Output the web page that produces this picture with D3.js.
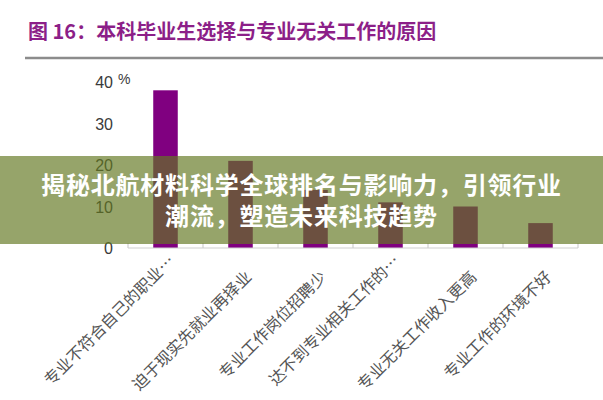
<!DOCTYPE html>
<html>
<head>
<meta charset="utf-8">
<script src="https://cdn.jsdelivr.net/npm/d3@7"></script>
<style>
  html, body { margin: 0; padding: 0; background: #ffffff; }
  svg { display: block; }
</style>
</head>
<body>
<svg id="chart" width="603" height="400"></svg>
<script>
const titleText = "图 16：本科毕业生选择与专业无关工作的原因";
const categories = [
  "专业不符合自己的职业…",
  "迫于现实先就业再择业",
  "专业工作岗位招聘少",
  "达不到专业相关工作的…",
  "专业无关工作收入更高",
  "专业工作的环境不好"
];
const values = [38, 21, 14, 11, 10, 6];
const yTicks = [0, 10, 20, 30, 40];
const bannerLines = ["揭秘北航材料科学全球排名与影响力，引领行业", "潮流，塑造未来科技趋势"];

const svg = d3.select("#chart");
const W = 603, H = 400;
svg.append("rect").attr("width", W).attr("height", H).attr("fill", "#ffffff");

// Title
svg.append("text")
  .attr("x", 28).attr("y", 39)
  .attr("font-family", "'Noto Sans CJK SC', 'Noto Sans', sans-serif")
  .attr("font-weight", "bold")
  .attr("font-size", 20)
  .attr("fill", "#8c1f88")
  .text(titleText);
svg.append("line")
  .attr("x1", 25).attr("x2", 603).attr("y1", 58).attr("y2", 58)
  .attr("stroke", "#8c8c8c").attr("stroke-width", 2.5);

// Scales
const x = d3.scaleBand().domain(categories).range([128, 578])
  .paddingInner(0.673).paddingOuter(0.3365).align(0.5);
const y = d3.scaleLinear().domain([0, 40]).range([248, 82]);

// Y tick labels
const yAxis = d3.axisLeft(y).tickValues(yTicks).tickSize(0).tickPadding(0);
const yg = svg.append("g").attr("transform", "translate(113,0)").call(yAxis);
yg.select(".domain").remove();
yg.selectAll("text")
  .attr("font-family", "'Liberation Sans', Arial, sans-serif")
  .attr("font-size", 16)
  .attr("fill", "#3a3a3a")
  .attr("dy", "0.36em");
svg.append("text")
  .attr("x", 118).attr("y", y(40) + 2)
  .attr("font-family", "'Liberation Sans', Arial, sans-serif")
  .attr("font-size", 14)
  .attr("fill", "#3a3a3a")
  .text("%");

// Bars
svg.append("g").selectAll("rect").data(values).join("rect")
  .attr("x", (d, i) => x(categories[i]))
  .attr("width", x.bandwidth())
  .attr("y", d => y(d))
  .attr("height", d => y(0) - y(d))
  .attr("fill", "#800080");

// X axis line and boundary ticks
const xg = svg.append("g").attr("transform", `translate(0,${y(0)})`);
xg.append("line")
  .attr("x1", x.range()[0]).attr("x2", x.range()[1])
  .attr("stroke", "#cfcfcf").attr("stroke-width", 1.2);
xg.selectAll("line.tk").data(d3.range(categories.length + 1)).join("line")
  .attr("class", "tk")
  .attr("x1", i => x.range()[0] + i * x.step())
  .attr("x2", i => x.range()[0] + i * x.step())
  .attr("y1", 0).attr("y2", -5)
  .attr("stroke", "#cfcfcf").attr("stroke-width", 1.2);

// Category labels (rotated)
svg.append("g").selectAll("text").data(categories).join("text")
  .attr("text-anchor", "end")
  .attr("transform", d => {
    const cx = x(d) + x.bandwidth() / 2;
    const truncated = d.endsWith("…");
    const ax = truncated ? cx + 10 : cx + 12;
    const ay = truncated ? 262 : 278;
    return `translate(${ax},${ay}) rotate(-45)`;
  })
  .attr("font-family", "'Noto Sans CJK SC', sans-serif")
  .attr("font-size", 16)
  .attr("fill", "#555")
  .text(d => d);

// Banner overlay
const banner = svg.append("g");
banner.append("rect")
  .attr("x", 0).attr("y", 156).attr("width", W).attr("height", 88)
  .attr("fill", "rgb(98,120,33)").attr("fill-opacity", 0.67);
banner.selectAll("text").data(bannerLines).join("text")
  .attr("x", 301.5)
  .attr("y", (d, i) => 194 + i * 31)
  .attr("text-anchor", "middle")
  .attr("font-family", "'Noto Sans CJK SC', sans-serif")
  .attr("font-weight", "bold")
  .attr("font-size", 24)
  .attr("letter-spacing", 0.8)
  .attr("fill", "#ffffff")
  .text(d => d);
</script>
</body>
</html>
